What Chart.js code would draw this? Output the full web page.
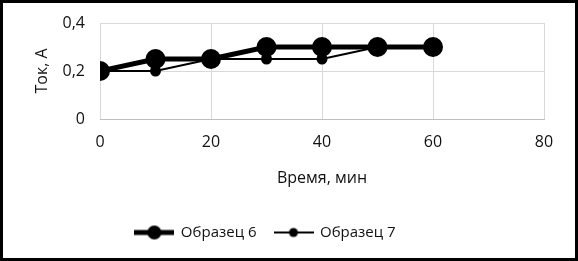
<!DOCTYPE html>
<html>
<head>
<meta charset="utf-8">
<script src="https://cdn.jsdelivr.net/npm/chart.js@4.4.1/dist/chart.umd.min.js"></script>
<style>
  html, body { margin: 0; padding: 0; background: #fff; }
  #wrap { width: 578px; height: 261px; box-sizing: border-box; border: 3px solid #000; position: relative; }
  canvas { display: block; }
</style>
</head>
<body>
<div id="wrap"><canvas id="chart" width="572" height="255"></canvas></div>
<script>
// ── DATA ─────────────────────────────────────────────────────────────────────
const timeMin = [0, 10, 20, 30, 40, 50, 60];
const sample6 = [0.2, 0.25, 0.25, 0.3, 0.3, 0.3, 0.3];
const sample7 = [0.2, 0.2, 0.25, 0.25, 0.25, 0.3, 0.3];
const seriesNames = ['Образец 6', 'Образец 7'];
const xTitle = 'Время, мин';
const yTitle = 'Ток, А';

const FONT = '"Open Sans", sans-serif';
const INK = '#111';

// legend icon: short line with a marker in the middle, like Excel
function legendIcon(lineW, r) {
  const c = document.createElement('canvas');
  c.width = 40; c.height = 18;
  const g = c.getContext('2d');
  g.strokeStyle = '#000'; g.fillStyle = '#000';
  g.lineWidth = lineW;
  g.beginPath(); g.moveTo(0, 9); g.lineTo(40, 9); g.stroke();
  g.beginPath(); g.arc(20, 9, r, 0, Math.PI * 2); g.fill();
  return c;
}
const icons = [legendIcon(5, 7), legendIcon(2, 4.5)];

const toPts = ys => timeMin.map((x, i) => ({ x, y: ys[i] }));

// Excel puts the legend a bit left of centre
const legendShift = {
  id: 'legendShift',
  afterLayout: chart => { if (chart.legend && chart.legend.lineWidths) chart.legend.lineWidths[0] += 16; }
};

new Chart(document.getElementById('chart'), {
  type: 'line',
  data: {
    datasets: [
      { label: seriesNames[0], data: toPts(sample6), borderColor: '#000', backgroundColor: '#000',
        borderWidth: 5, pointRadius: 7.5, pointHoverRadius: 7.5, order: 1 },
      { label: seriesNames[1], data: toPts(sample7), borderColor: '#000', backgroundColor: '#000',
        borderWidth: 2, pointRadius: 4.5, pointHoverRadius: 4.5, order: 0 }
    ]
  },
  plugins: [legendShift],
  options: {
    responsive: false, animation: false,
    layout: { padding: { top: 20, right: 31, left: 0, bottom: 8 } },
    scales: {
      x: {
        type: 'linear', min: 0, max: 80,
        ticks: { stepSize: 20, color: INK, font: { family: FONT, size: 16 }, padding: 14 },
        grid: { color: '#d9d9d9', drawTicks: false },
        border: { color: '#bfbfbf', width: 1 },
        title: { display: true, text: xTitle, color: INK, font: { family: FONT, size: 16 }, padding: { top: 0, bottom: 19 } },
        afterFit: s => { s.height = 88; }
      },
      y: {
        min: 0, max: 0.4,
        // gap to the labels comes from invisible tick marks, so it doesn't pad the top
        ticks: { stepSize: 0.2, color: INK, font: { family: FONT, size: 16 }, padding: 0,
                 callback: v => String(Math.round(v * 10) / 10).replace('.', ',') },
        grid: { color: '#d9d9d9', drawTicks: true, tickLength: 15, tickColor: 'rgba(0,0,0,0)' },
        border: { display: false },
        title: { display: true, text: yTitle, color: INK, font: { family: FONT, size: 16 }, padding: { top: 30, bottom: 0 } },
        afterFit: s => { s.width = 97; }
      }
    },
    plugins: {
      legend: {
        position: 'bottom',
        labels: {
          usePointStyle: true, pointStyleWidth: 38, padding: 18,
          color: INK, font: { family: FONT, size: 15 },
          generateLabels: chart => chart.data.datasets.map((d, i) => ({
            text: d.label, pointStyle: icons[i], fillStyle: '#000', strokeStyle: '#000',
            lineWidth: 0, hidden: false, datasetIndex: i, fontColor: INK
          }))
        }
      },
      tooltip: { enabled: false }
    }
  }
});
</script>
</body>
</html>
